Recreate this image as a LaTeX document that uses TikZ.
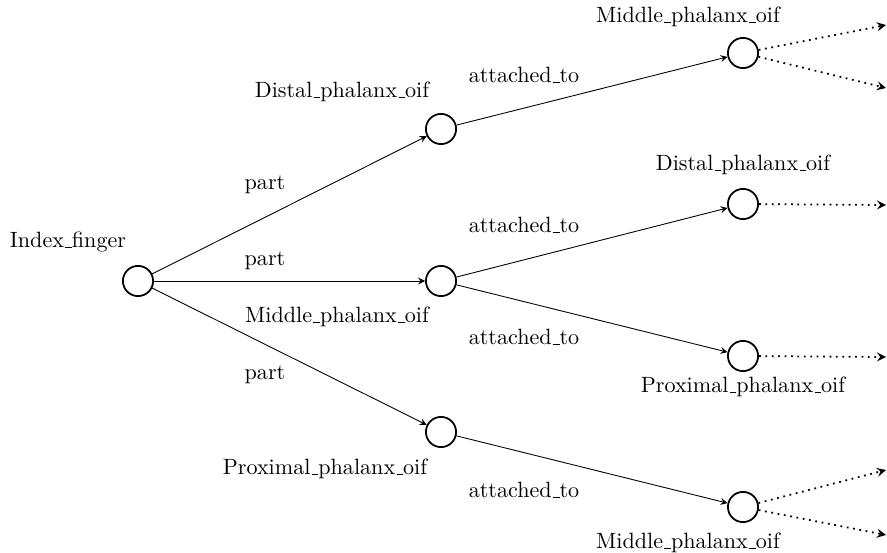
\documentclass[tikz,border=0pt]{standalone}
\usepackage{tikz}
\usetikzlibrary{arrows}

\newcommand{\usc}{\leavevmode\kern.06em\vbox{\hrule width.3em}}

\tikzset{
    ent/.style={draw, circle, thick, minimum size=0.48cm, inner sep=0pt},
    rel/.style={-stealth},
    more/.style={-stealth, line width=0.8pt, dash pattern=on 0.8pt off 2.1pt},
}

\begin{document}
\begin{tikzpicture}[x=0.0159cm, y=-0.0159cm]
\useasboundingbox (0, 0) rectangle (887, 553);
% entities
\node[ent] (finger) at (138, 281) {};
\node[ent] (distal) at (441, 129) {};
\node[ent] (middle) at (441, 281) {};
\node[ent] (proximal) at (441, 432) {};
\node[ent] (distalM) at (743, 53) {};
\node[ent] (middleD) at (743, 204) {};
\node[ent] (middleP) at (743, 356) {};
\node[ent] (proximalM) at (743, 507) {};
% names
\node (fingerT) at (68, 242) {Index\usc finger};
\node (distalT) at (342, 92) {Distal\usc phalanx\usc oif};
\node (middleT) at (337, 317) {Middle\usc phalanx\usc oif};
\node (proximalT) at (325, 469) {Proximal\usc phalanx\usc oif};
\node (distalMT) at (688, 17) {Middle\usc phalanx\usc oif};
\node (middleDT) at (743, 165) {Distal\usc phalanx\usc oif};
\node (middlePT) at (743, 387) {Proximal\usc phalanx\usc oif};
\node (proximalMT) at (688, 543) {Middle\usc phalanx\usc oif};
% part
\draw[rel] (finger) -- (distal);
\draw[rel] (finger) -- (middle);
\draw[rel] (finger) -- (proximal);
\node (part1) at (265, 185) {part};
\node (part2) at (265, 261) {part};
\node (part3) at (265, 375) {part};
% attached_to
\draw[rel] (distal) -- (distalM);
\draw[rel] (middle) -- (middleD);
\draw[rel] (middle) -- (middleP);
\draw[rel] (proximal) -- (proximalM);
\node (att1) at (524, 75) {attached\usc to};
\node (att2) at (524, 225) {attached\usc to};
\node (att3) at (524, 337) {attached\usc to};
\node (att4) at (524, 490) {attached\usc to};
% continued
\coordinate (c1) at (886, 25);
\coordinate (c2) at (886, 88);
\coordinate (c3) at (886, 205);
\coordinate (c4) at (886, 357);
\coordinate (c5) at (886, 470);
\coordinate (c6) at (886, 535);
\draw[more] (distalM) -- (c1);
\draw[more] (distalM) -- (c2);
\draw[more] (middleD) -- (c3);
\draw[more] (middleP) -- (c4);
\draw[more] (proximalM) -- (c5);
\draw[more] (proximalM) -- (c6);
\end{tikzpicture}
\end{document}
